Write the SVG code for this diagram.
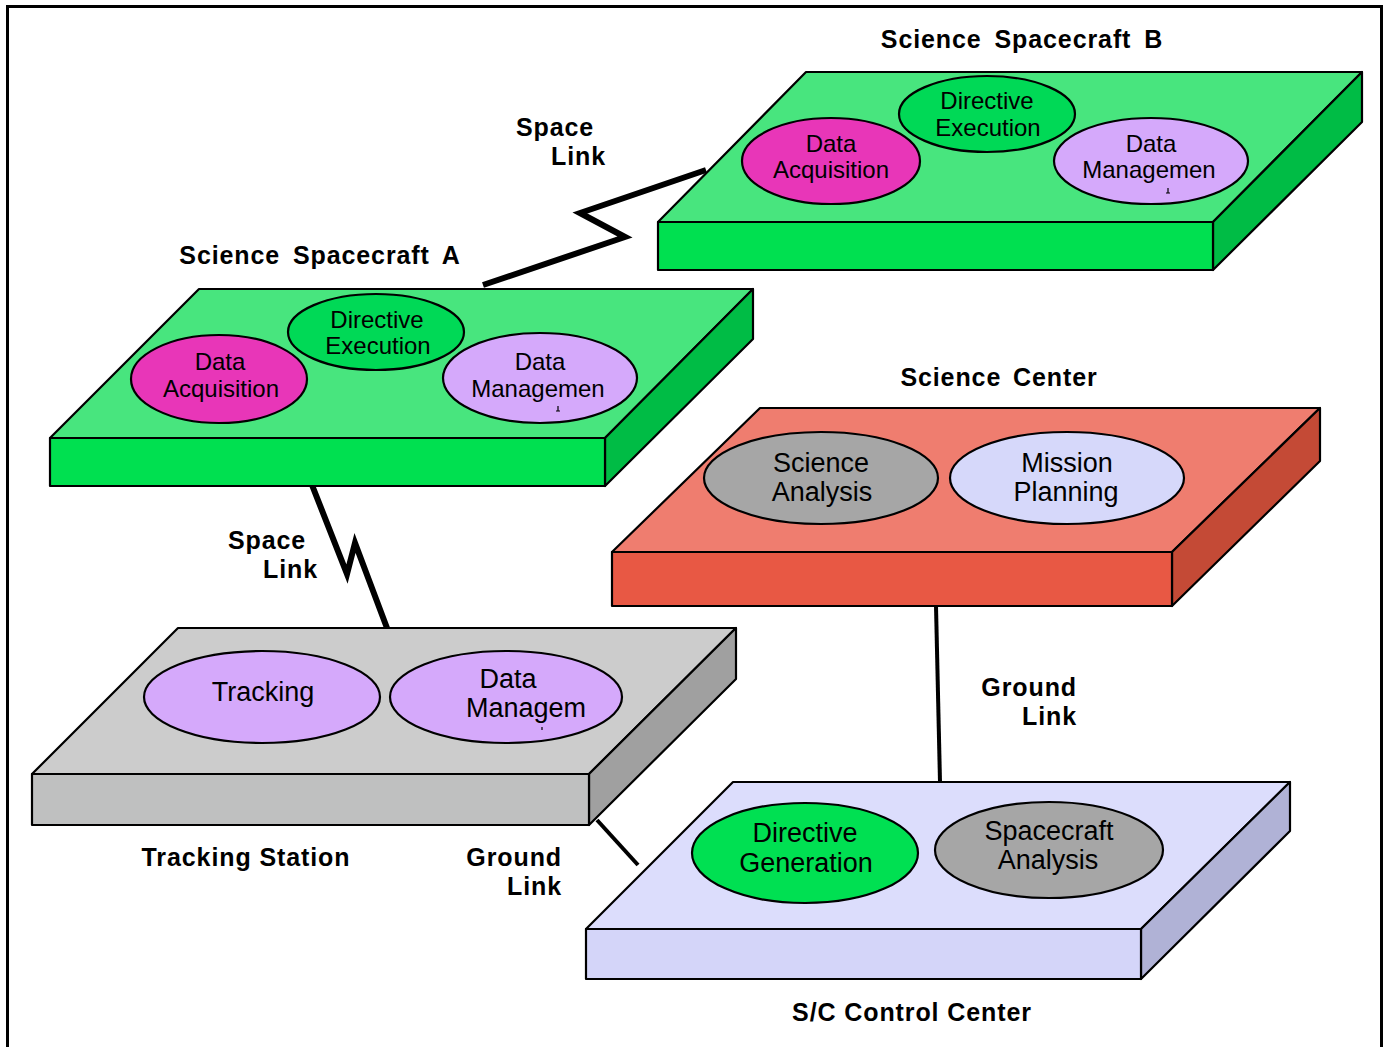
<svg xmlns="http://www.w3.org/2000/svg" width="1390" height="1047" viewBox="0 0 1390 1047">
  <style>
    .edge { stroke: #000; stroke-width: 2.2; stroke-linejoin: round; }
    .oval { stroke: #000; stroke-width: 2.2; }
    .otext { font-family: "Liberation Sans", Arial, sans-serif; font-size: 24px; fill: #000; text-anchor: middle; }
    .big { font-size: 27px; }
    .label { font-family: "Liberation Sans", Arial, sans-serif; font-weight: bold; font-size: 25px; fill: #000; letter-spacing: 0.9px; }
    .link { fill: none; stroke: #000; stroke-width: 6; stroke-linejoin: miter; }
    .gnd { fill: none; stroke: #000; stroke-width: 4; }
    .tick { fill: none; stroke: #000; stroke-width: 1.2; }
    .g-top { fill: #48E57E; } .g-front { fill: #00E050; } .g-side { fill: #00BC45; }
    .r-top { fill: #EF7D6F; } .r-front { fill: #E85844; } .r-side { fill: #C44A36; }
    .s-top { fill: #CCCCCC; } .s-front { fill: #BFC0C0; } .s-side { fill: #A0A0A0; }
    .l-top { fill: #DCDDFC; } .l-front { fill: #D4D5F9; } .l-side { fill: #B0B2D6; }
    .magenta { fill: #E836B8; } .lilac { fill: #D5A9FB; } .green { fill: #00D956; }
    .grey { fill: #A6A6A6; } .pale { fill: #D6D8FA; } .bright { fill: #00E052; }
  </style>

  <rect x="0" y="0" width="1390" height="1047" fill="#fff"/>
  <!-- page frame -->
  <rect x="7.5" y="6.5" width="1374" height="1060" fill="none" stroke="#000" stroke-width="3"/>

  <!-- links -->
  <g id="connectors">
    <polyline class="link" points="483,285 625,237 580,213 706,170"/>
    <polyline class="link" points="312,485 347,574 355,543 390,636"/>
    <line class="gnd" x1="936" y1="606" x2="940" y2="782"/>
    <line class="gnd" x1="597" y1="820" x2="638" y2="865"/>
  </g>

  <!-- Science Spacecraft B -->
  <g id="spacecraft-b">
    <polygon class="g-top edge" points="658,222 806,72 1362,72 1213,222"/>
    <polygon class="g-side edge" points="1213,222 1362,72 1362,122 1213,270"/>
    <rect class="g-front edge" x="658" y="222" width="555" height="48"/>
    <ellipse class="magenta oval" cx="831" cy="161" rx="89" ry="43"/>
    <ellipse class="green oval" cx="987" cy="114" rx="88" ry="38"/>
    <ellipse class="lilac oval" cx="1151" cy="161" rx="97" ry="43"/>
    <text class="otext" x="831" y="152">Data</text>
    <text class="otext" x="831" y="178">Acquisition</text>
    <text class="otext" x="987" y="109">Directive</text>
    <text class="otext" x="988" y="136">Execution</text>
    <text class="otext" x="1151" y="152">Data</text>
    <text class="otext" x="1149" y="178">Managemen</text>
    <path class="tick" d="M1168,188 v5 M1166,193 h4"/>
    <text class="label" x="1022" y="48" text-anchor="middle" word-spacing="5">Science Spacecraft B</text>
  </g>

  <!-- Science Spacecraft A -->
  <g id="spacecraft-a">
    <polygon class="g-top edge" points="50,438 199,289 753,289 605,438"/>
    <polygon class="g-side edge" points="605,438 753,289 753,339 605,486"/>
    <rect class="g-front edge" x="50" y="438" width="555" height="48"/>
    <ellipse class="magenta oval" cx="219" cy="379" rx="88" ry="44"/>
    <ellipse class="green oval" cx="376" cy="332" rx="88" ry="38"/>
    <ellipse class="lilac oval" cx="540" cy="378" rx="97" ry="45"/>
    <text class="otext" x="220" y="370">Data</text>
    <text class="otext" x="221" y="397">Acquisition</text>
    <text class="otext" x="377" y="328">Directive</text>
    <text class="otext" x="378" y="354">Execution</text>
    <text class="otext" x="540" y="370">Data</text>
    <text class="otext" x="538" y="397">Managemen</text>
    <path class="tick" d="M558,406 v5 M556,411 h4"/>
    <text class="label" x="320" y="264" text-anchor="middle" word-spacing="5">Science Spacecraft A</text>
  </g>

  <!-- Tracking Station -->
  <g id="tracking-station">
    <polygon class="s-top edge" points="32,774 178,628 736,628 589,774"/>
    <polygon class="s-side edge" points="589,774 736,628 736,679 589,825"/>
    <rect class="s-front edge" x="32" y="774" width="557" height="51"/>
    <ellipse class="lilac oval" cx="262" cy="697" rx="118" ry="46"/>
    <ellipse class="lilac oval" cx="506" cy="697" rx="116" ry="46"/>
    <text class="otext big" x="263" y="701">Tracking</text>
    <text class="otext big" x="508" y="688">Data</text>
    <text class="otext big" x="526" y="717">Managem</text>
    <path class="tick" d="M542,727 v3"/>
    <text class="label" x="246" y="866" text-anchor="middle">Tracking Station</text>
  </g>

  <!-- Science Center -->
  <g id="science-center">
    <polygon class="r-top edge" points="612,552 760,408 1320,408 1172,552"/>
    <polygon class="r-side edge" points="1172,552 1320,408 1320,461 1172,606"/>
    <rect class="r-front edge" x="612" y="552" width="560" height="54"/>
    <ellipse class="grey oval" cx="821" cy="478" rx="117" ry="46"/>
    <ellipse class="pale oval" cx="1067" cy="478" rx="117" ry="46"/>
    <text class="otext big" x="821" y="472">Science</text>
    <text class="otext big" x="822" y="501">Analysis</text>
    <text class="otext big" x="1067" y="472">Mission</text>
    <text class="otext big" x="1066" y="501">Planning</text>
    <text class="label" x="999" y="386" text-anchor="middle" word-spacing="4">Science Center</text>
  </g>

  <!-- S/C Control Center -->
  <g id="control-center">
    <polygon class="l-top edge" points="586,929 733,782 1290,782 1141,929"/>
    <polygon class="l-side edge" points="1141,929 1290,782 1290,831 1141,979"/>
    <rect class="l-front edge" x="586" y="929" width="555" height="50"/>
    <ellipse class="bright oval" cx="805" cy="853" rx="113" ry="50"/>
    <ellipse class="grey oval" cx="1049" cy="850" rx="114" ry="48"/>
    <text class="otext big" x="805" y="842">Directive</text>
    <text class="otext big" x="806" y="872">Generation</text>
    <text class="otext big" x="1049" y="840">Spacecraft</text>
    <text class="otext big" x="1048" y="869">Analysis</text>
    <text class="label" x="912" y="1021" text-anchor="middle">S/C Control Center</text>
  </g>

  <!-- link labels -->
  <g id="link-labels">
    <text class="label" x="516" y="136">Space</text>
    <text class="label" x="551" y="165">Link</text>
    <text class="label" x="228" y="549">Space</text>
    <text class="label" x="263" y="578">Link</text>
    <text class="label" x="1077" y="696" text-anchor="end">Ground</text>
    <text class="label" x="1077" y="725" text-anchor="end">Link</text>
    <text class="label" x="562" y="866" text-anchor="end">Ground</text>
    <text class="label" x="562" y="895" text-anchor="end">Link</text>
  </g>
</svg>
